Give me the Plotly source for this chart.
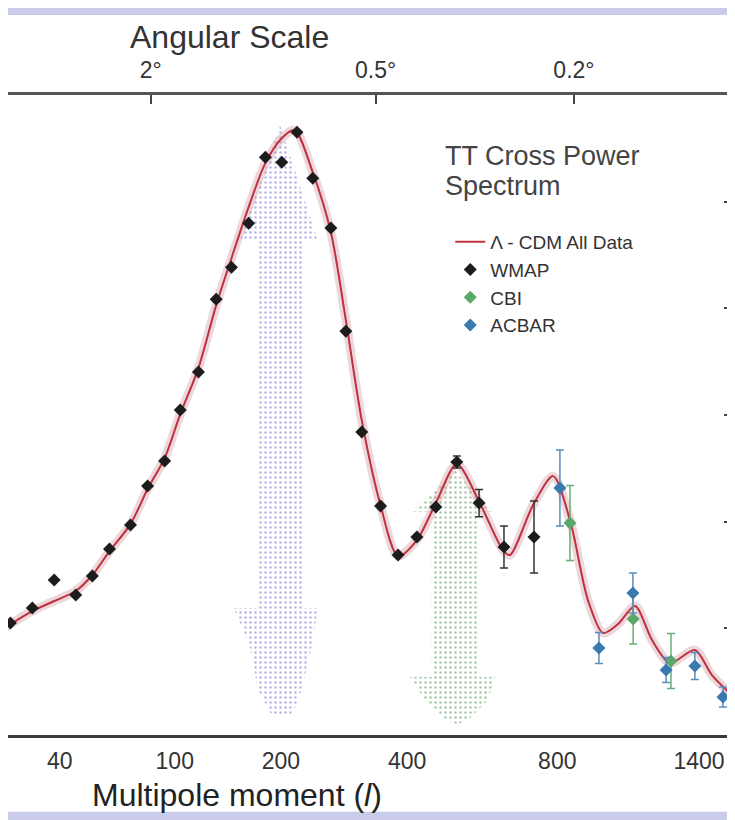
import numpy as np
import plotly.graph_objects as go

# multipole moment l and l(l+1)C_l/2pi in uK^2
wmap_l = [25, 31, 38, 46, 53, 61, 72, 82, 93, 104, 118, 133, 147, 164, 182, 201, 220, 241,
          267, 290, 316, 349, 382, 420, 461, 510, 566, 634, 724]
wmap_v = [1050, 1190, 1453, 1312, 1490, 1743, 1968, 2334, 2568, 3046, 3402, 4086, 4386, 4798,
          5417, 5370, 5651, 5220, 4752, 3786, 2840, 2146, 1687, 1856, 2137, 2559, 2174, 1762, 1856]
wmap_err = [0] * 25 + [56, 127, 197, 338]

cbi_l = [844, 1090, 1261]
cbi_v = [1987, 1087, 694]
cbi_err = [351, 234, 258]

acbar_l = [809, 951, 1089, 1238, 1379, 1528]
acbar_v = [2315, 815, 1331, 609, 647, 356]
acbar_err = [356, 145, 187, 117, 127, 94]

model_l = [22, 31, 38, 46, 53, 61, 72, 82, 93, 104, 118, 133, 147, 164, 182, 201, 217, 241,
           267, 290, 316, 348, 382, 420, 461, 510, 568, 631, 651, 721, 786, 844, 909, 967,
           1027, 1098, 1173, 1256, 1379, 1468, 1595]
model_v = [965, 1162, 1256, 1350, 1500, 1724, 1977, 2306, 2596, 3008, 3440, 4030, 4470, 4948,
           5361, 5595, 5670, 5276, 4714, 3889, 2952, 2174, 1678, 1828, 2174, 2540, 2174, 1734,
           1687, 2156, 2427, 2015, 1265, 956, 1040, 1209, 890, 675, 797, 562, 347]

# dotted arrows under the first two peaks (outline in l / uK^2)
arrow1_l = [199, 248, 228, 228, 248, 240, 226, 214, 189, 174, 165, 149, 174, 174, 155, 199]
arrow1_v = [5717, 4639, 4639, 1190, 1190, 843, 422, 187, 187, 422, 843, 1190, 1190, 4639, 4639, 5717]
arrow2_l = [505, 603, 563, 563, 609, 590, 543, 510, 480, 437, 406, 452, 452, 410, 505]
arrow2_v = [2484, 2090, 2090, 544, 544, 328, 159, 94, 159, 328, 544, 544, 2090, 2090, 2484]

bottom_ticks = [40, 100, 200, 400, 800, 1400]
angle_labels = ["2°", "0.5°", "0.2°"]
angle_ell = [84, 340, 858]
y_ticks = [1000, 2000, 3000, 4000, 5000]
ell_range = [24.4, 1584]


def u(ell):
    # the horizontal axis is linear in l^(1/4)
    return np.asarray(ell, dtype=float) ** 0.25


fig = go.Figure()

for al, av, col in [(arrow1_l, arrow1_v, "#6f6cd0"), (arrow2_l, arrow2_v, "#4f9452")]:
    fig.add_trace(go.Scatter(x=u(al), y=av, fill="toself", mode="lines",
                             line=dict(width=0), fillcolor="rgba(0,0,0,0)",
                             fillpattern=dict(shape=".", fgcolor=col, bgcolor="rgba(0,0,0,0)",
                                              size=5, solidity=0.2),
                             showlegend=False, hoverinfo="skip"))

# faint band around the model curve
fig.add_trace(go.Scatter(x=u(model_l), y=model_v, mode="lines",
                         line=dict(color="rgba(200,140,150,0.35)", width=9, shape="spline", smoothing=0.8),
                         showlegend=False, hoverinfo="skip"))
fig.add_trace(go.Scatter(x=u(model_l), y=model_v, mode="lines", name="Λ - CDM All Data",
                         legendgroup="a",
                         line=dict(color="#c0303f", width=2, shape="spline", smoothing=0.8)))

fig.add_trace(go.Scatter(x=u(wmap_l), y=wmap_v, mode="markers", name="WMAP", legendgroup="b",
                         marker=dict(color="#1c1c1c", size=10, symbol="diamond"),
                         error_y=dict(type="data", array=wmap_err, color="#333333", thickness=1.5, width=4)))
fig.add_trace(go.Scatter(x=u(cbi_l), y=cbi_v, mode="markers", name="CBI", legendgroup="c",
                         marker=dict(color="#5aa867", size=10, symbol="diamond"),
                         error_y=dict(type="data", array=cbi_err, color="#6aae78", thickness=1.5, width=4)))
fig.add_trace(go.Scatter(x=u(acbar_l), y=acbar_v, mode="markers", name="ACBAR", legendgroup="d",
                         marker=dict(color="#3a78b0", size=10, symbol="diamond"),
                         error_y=dict(type="data", array=acbar_err, color="#5a8cbc", thickness=1.5, width=4)))

# invisible trace so the top axis is drawn
fig.add_trace(go.Scatter(x=u([40]), y=[0], xaxis="x2", mode="markers",
                         marker=dict(opacity=0), showlegend=False, hoverinfo="skip"))

xr = list(u(ell_range))
fig.update_layout(
    width=735, height=820,
    margin=dict(l=0, r=10, t=87, b=93),
    paper_bgcolor="white", plot_bgcolor="white",
    font=dict(family="Arial, Liberation Sans, sans-serif", color="#333333"),
    xaxis=dict(range=xr, tickvals=u(bottom_ticks), ticktext=[str(t) for t in bottom_ticks],
               ticks="", showline=True, linecolor="#3a3a3a", linewidth=3, showgrid=False,
               zeroline=False, tickfont=dict(size=23, color="#333333"), ticklabelstandoff=3,
               automargin=False),
    xaxis2=dict(range=xr, overlaying="x", side="top", tickvals=u(angle_ell), ticktext=angle_labels,
                ticks="inside", ticklen=9, tickwidth=2, tickcolor="#444444",
                showline=True, linecolor="#555555", linewidth=3, showgrid=False, zeroline=False,
                tickfont=dict(size=23, color="#333333"), ticklabelstandoff=5, automargin=False),
    yaxis=dict(range=[0, 6000], side="right", tickvals=y_ticks, showticklabels=False,
               ticks="inside", ticklen=9, tickwidth=2, tickcolor="#444444",
               showline=True, linecolor="#555555", linewidth=2, showgrid=False, zeroline=False,
               automargin=False),
    legend=dict(x=0.61, y=0.8, xanchor="left", yanchor="top", bgcolor="rgba(0,0,0,0)",
                font=dict(size=19, color="#333333"), itemwidth=30, tracegroupgap=0),
    shapes=[
        dict(type="rect", xref="paper", yref="paper", x0=-0.02, x1=1.02, y0=1.125, y1=1.16,
             fillcolor="#c9cbe9", line=dict(width=0), layer="below"),
        dict(type="rect", xref="paper", yref="paper", x0=-0.02, x1=1.02, y0=-0.15, y1=-0.12,
             fillcolor="#c9cbe9", line=dict(width=0), layer="below"),
    ],
    annotations=[
        dict(text="Angular Scale", xref="paper", yref="paper", x=0.306, y=1.091,
             xanchor="center", yanchor="middle", showarrow=False,
             font=dict(size=32, color="#333333")),
        dict(text="Multipole moment (<i>l</i>)", xref="paper", yref="paper", x=0.316, y=-0.094,
             xanchor="center", yanchor="middle", showarrow=False,
             font=dict(size=32, color="#222222")),
        dict(text="TT Cross Power", xref="paper", yref="paper", x=0.6, y=0.905,
             xanchor="left", yanchor="middle", showarrow=False,
             font=dict(size=27, color="#444444")),
        dict(text="Spectrum", xref="paper", yref="paper", x=0.6, y=0.858,
             xanchor="left", yanchor="middle", showarrow=False,
             font=dict(size=27, color="#444444")),
    ],
)

fig.write_html("out.html")
